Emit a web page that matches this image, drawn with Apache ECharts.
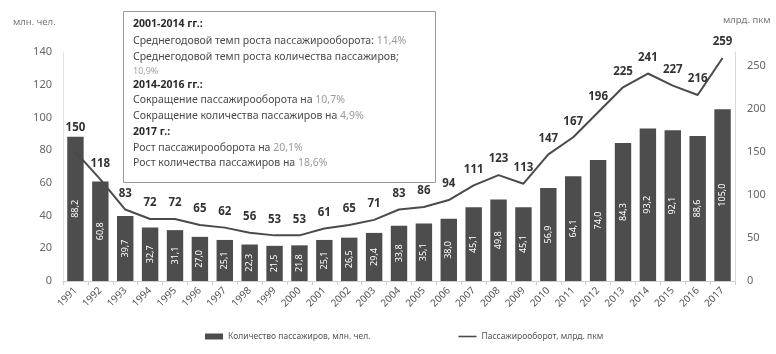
<!DOCTYPE html>
<html>
<head>
<meta charset="utf-8">
<script src="https://cdn.jsdelivr.net/npm/echarts@6/dist/echarts.min.js"></script>
<style>
  html, body { margin: 0; padding: 0; background: #fff; }
  #chart { width: 776px; height: 354px; }
</style>
</head>
<body>
<div id="chart"></div>
<script>
// Годы наблюдения
const years = ['1991','1992','1993','1994','1995','1996','1997','1998','1999','2000',
  '2001','2002','2003','2004','2005','2006','2007','2008','2009','2010',
  '2011','2012','2013','2014','2015','2016','2017'];

// Количество пассажиров, млн. чел.
const passengers = [88.2, 60.8, 39.7, 32.7, 31.1, 27.0, 25.1, 22.3, 21.5, 21.8,
  25.1, 26.5, 29.4, 33.8, 35.1, 38.0, 45.1, 49.8, 45.1, 56.9,
  64.1, 74.0, 84.3, 93.2, 92.1, 88.6, 105.0];

// Пассажирооборот, млрд. пкм
const turnover = [150, 118, 83, 72, 72, 65, 62, 56, 53, 53,
  61, 65, 71, 83, 86, 94, 111, 123, 113, 147,
  167, 196, 225, 241, 227, 216, 259];

// Шкалы осей
const leftAxis = { min: 0, max: 140, step: 20 };
const rightAxis = { min: 0, max: 266, step: 50 };

// Строки пояснительной врезки
const notes = [
  { head: '2001-2014 гг.:' },
  { text: 'Среднегодовой темп роста пассажирооборота: ', pct: '11,4%' },
  { text: 'Среднегодовой темп роста количества пассажиров;' },
  { pct: '10,9%', small: true },
  { head: '2014-2016 гг.:' },
  { text: 'Сокращение пассажирооборота на ', pct: '10,7%' },
  { text: 'Сокращение количества пассажиров на ', pct: '4,9%' },
  { head: '2017 г.:' },
  { text: 'Рост пассажирооборота на ', pct: '20,1%' },
  { text: 'Рост количества пассажиров на ', pct: '18,6%' }
];

const FONT = '"Noto Sans", "DejaVu Sans", sans-serif';
const chart = echarts.init(document.getElementById('chart'), null, { renderer: 'canvas' });

const noteY = [24, 41, 57, 71, 85, 100, 116, 132, 148, 163];
const noteElements = notes.map((n, i) => {
  let txt;
  if (n.head) txt = '{h|' + n.head + '}';
  else {
    txt = '';
    if (n.text) txt += '{t|' + n.text + '}';
    if (n.pct) txt += (n.small ? '{s|' : '{p|') + n.pct + '}';
  }
  return {
    type: 'text',
    x: 133,
    y: noteY[i],
    z: 11,
    style: {
      text: txt,
      verticalAlign: 'middle',
      align: 'left',
      font: '10.5px ' + FONT,
      rich: {
        h: { fontFamily: FONT, fontSize: 10.5, fontWeight: 'bold', fill: '#2a2a2a' },
        t: { fontFamily: FONT, fontSize: 10.5, fill: '#4a4a4a' },
        p: { fontFamily: FONT, fontSize: 10.5, fill: '#9a9a9a' },
        s: { fontFamily: FONT, fontSize: 9, fill: '#a5a5a5' }
      }
    }
  };
});

const option = {
  backgroundColor: '#fff',
  animation: false,
  textStyle: { fontFamily: FONT },
  grid: { left: 63, right: 41, top: 52, bottom: 73 },
  legend: {
    left: 200,
    top: 327,
    itemGap: 88,
    textStyle: { fontSize: 8.5, color: '#555', fontFamily: FONT },
    data: [
      { name: 'Количество пассажиров, млн. чел.', icon: 'rect', itemStyle: { color: '#4d4d4d' } },
      { name: 'Пассажирооборот, млрд. пкм', icon: 'path://M0,0H18V1.6H0Z', itemStyle: { color: '#4a4a4a' } }
    ],
    itemWidth: 18,
    itemHeight: 6
  },
  xAxis: {
    type: 'category',
    data: years,
    boundaryGap: true,
    axisLine: { lineStyle: { color: '#cfcfcf', width: 1 } },
    axisTick: { show: true, length: 4, lineStyle: { color: '#cfcfcf' } },
    axisLabel: { rotate: 45, fontSize: 10, color: '#555', margin: 8, interval: 0 }
  },
  yAxis: [
    {
      type: 'value',
      min: leftAxis.min, max: leftAxis.max, interval: leftAxis.step,
      axisLine: { show: true, lineStyle: { color: '#e2e2e2' } },
      axisTick: { show: false },
      splitLine: { show: false },
      axisLabel: { fontSize: 11, color: '#666', margin: 11 }
    },
    {
      type: 'value',
      min: rightAxis.min, max: rightAxis.max, interval: rightAxis.step,
      axisLine: { show: true, lineStyle: { color: '#d8d8d8' } },
      axisTick: { show: false },
      splitLine: { show: false },
      axisLabel: { fontSize: 11, color: '#666', margin: 12, showMaxLabel: false }
    }
  ],
  series: [
    {
      name: 'Количество пассажиров, млн. чел.',
      type: 'bar',
      yAxisIndex: 0,
      data: passengers,
      barCategoryGap: '34%',
      itemStyle: { color: '#4d4d4d' },
      label: {
        show: true,
        position: 'inside',
        rotate: 90,
        color: '#fff',
        fontSize: 9,
        formatter: p => p.value.toFixed(1).replace('.', ',')
      }
    },
    {
      name: 'Пассажирооборот, млрд. пкм',
      type: 'line',
      yAxisIndex: 1,
      data: turnover.map((v, i) => i === 0
        ? { value: v, label: { offset: [0, -8] } }
        : v),
      symbol: 'circle',
      symbolSize: 0.01,
      showSymbol: true,
      lineStyle: { color: '#4a4a4a', width: 2 },
      itemStyle: { color: '#4a4a4a' },
      label: {
        show: true,
        position: 'top',
        distance: 10,
        fontSize: 11.5,
        fontWeight: 'bold',
        color: '#333'
      },
      z: 5
    }
  ],
  graphic: [
    { type: 'text', x: 13, y: 22, style: { text: 'млн. чел.', verticalAlign: 'middle', font: '9.5px ' + FONT, fill: '#777' } },
    { type: 'text', x: 723, y: 20, style: { text: 'млрд. пкм', verticalAlign: 'middle', font: '9.5px ' + FONT, fill: '#777' } },
    {
      type: 'rect',
      x: 123.5, y: 11.5,
      shape: { width: 312, height: 171 },
      style: { fill: '#fff', stroke: '#9a9a9a', lineWidth: 1 },
      z: 10
    }
  ].concat(noteElements)
};

chart.setOption(option);
</script>
</body>
</html>
